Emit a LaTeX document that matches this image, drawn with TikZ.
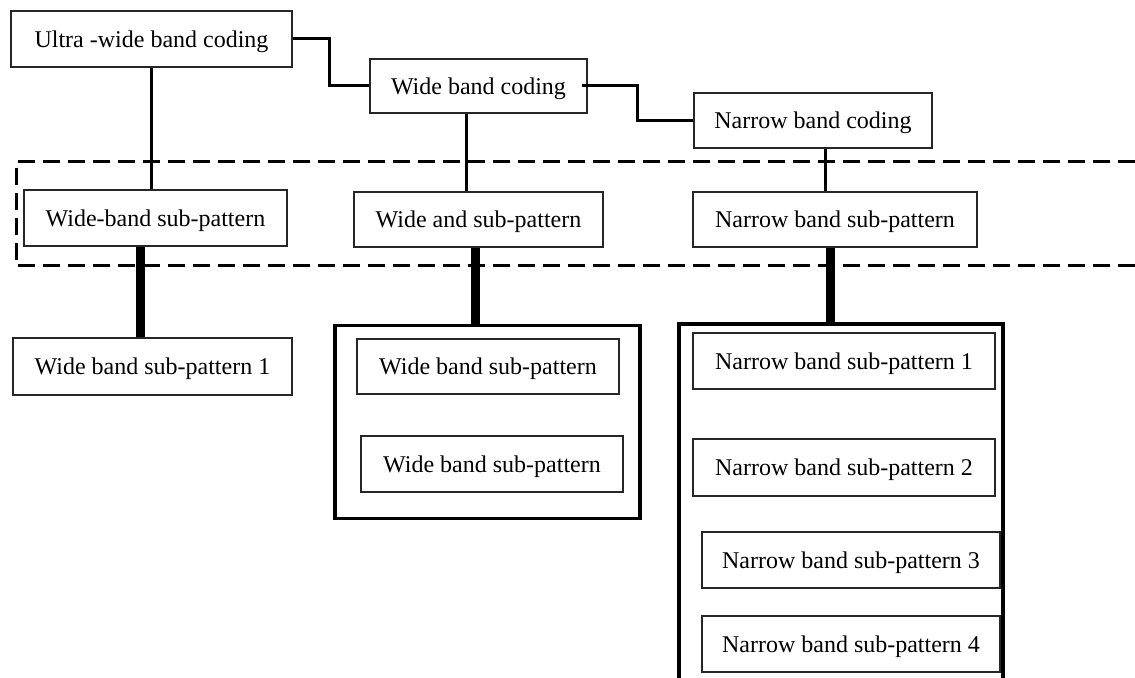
\documentclass[tikz,border=0pt]{standalone}
\usepackage{fontspec}
\setmainfont{Liberation Serif}
\usepackage{tikz}
\usetikzlibrary{positioning}

\begin{document}
\begin{tikzpicture}[x=0.5pt, y=-0.5pt,
        box/.style={rectangle, draw=black!85, line width=0.75pt, inner sep=0pt, text depth=0pt, font=\fontsize{12}{14}\selectfont},
        group/.style={rectangle, draw=black, line width=1.6pt, inner sep=0pt},
        link/.style={draw=black, line width=1.5pt},
        fatlink/.style={draw=black, line width=4.5pt},
        band/.style={draw=black, line width=1.5pt, dash pattern=on 8.5pt off 4pt}
      ]
        \clip (0,0) rectangle (1135,678);

        \node[box, minimum width=140.5pt, minimum height=28pt]   (ultra)  at (151.5,39)  {Ultra -wide band coding};
        \node[box, minimum width=108.5pt, minimum height=27pt]   (wide)   at (478.5,86)  {Wide band coding};
        \node[box, minimum width=119pt,   minimum height=27.5pt] (narrow) at (813,120.5) {Narrow band coding};

        \node[box, minimum width=131.5pt, minimum height=28pt]   (wsubA)  at (155.5,218) {Wide-band sub-pattern};
        \node[box, minimum width=124.5pt, minimum height=27.5pt] (wsubB)  at (478.5,219.5) {Wide and sub-pattern};
        \node[box, minimum width=142pt,   minimum height=27.5pt] (nsub)   at (835,219.5) {Narrow band sub-pattern};

        \node[box, minimum width=139.5pt, minimum height=28.5pt] (wpat1)  at (152.5,366.5) {Wide band sub-pattern 1};

        \node[group, minimum width=152.5pt, minimum height=96.5pt] (wgroup) at (487.5,422) {};
        \node[box, minimum width=131pt, minimum height=27.5pt] (wpatA) at (488,366.5) {Wide band sub-pattern};
        \node[box, minimum width=131pt, minimum height=28pt]   (wpatB) at (492,464)   {Wide band sub-pattern};

        \node[group, minimum width=162pt, minimum height=198pt] (ngroup) at (841,522) {};
        \node[box, minimum width=151pt, minimum height=28pt]   (npat1) at (844,361)   {Narrow band sub-pattern 1};
        \node[box, minimum width=151pt, minimum height=28.5pt] (npat2) at (844,467.5) {Narrow band sub-pattern 2};
        \node[box, minimum width=149pt, minimum height=28pt]   (npat3) at (851,560)   {Narrow band sub-pattern 3};
        \node[box, minimum width=149pt, minimum height=28pt]   (npat4) at (851,644)   {Narrow band sub-pattern 4};

        \draw[link] (ultra.east) -- ++(37,0) |- (wide.west);
        \draw[link] ([xshift=-3pt]wide.east) -- ++(56,0) |- (narrow.west);

        \draw[link] (ultra.south) -- (ultra.south |- wsubA.north);
        \draw[link] ([xshift=-6.25pt]wide.south) -- ([xshift=-6.25pt]wide.south |- wsubB.north);
        \draw[link] ([xshift=6pt]narrow.south) -- ([xshift=6pt]narrow.south |- nsub.north);

        \draw[fatlink] ([xshift=-7.75pt]wsubA.south) -- ([xshift=-7.75pt]wsubA.south |- wpat1.north);
        \draw[fatlink] ([xshift=-1.75pt]wsubB.south) -- ([xshift=-1.75pt]wsubB.south |- wgroup.north);
        \draw[fatlink] ([xshift=-2.5pt]nsub.south) -- ([xshift=-2.5pt]nsub.south |- ngroup.north);

        \draw[band] (1135,162) -- (16,162) -- (16,266) -- (1135,266);
      \end{tikzpicture}
\end{document}
